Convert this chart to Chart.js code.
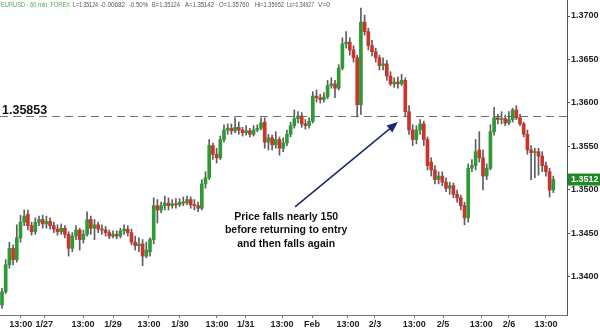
<!DOCTYPE html>
<html>
<head>
<meta charset="utf-8">
<script src="https://cdn.jsdelivr.net/npm/chart.js@4.4.1/dist/chart.umd.min.js"></script>
<style>
  html, body { margin: 0; padding: 0; background: #fff; }
</style>
</head>
<body>
<canvas id="chart" width="600" height="330"></canvas>
<script>
// EURUSD 60 min candles (one candle per hour slot)
const opens = [
  1.3368, 1.3383, 1.3414, 1.3433, 1.3420, 1.3445, 1.3463, 1.3472, 1.3459, 1.3452,
  1.3463, 1.3466, 1.3461, 1.3464, 1.3459, 1.3455, 1.3452, 1.3456, 1.3449, 1.3433,
  1.3447, 1.3454, 1.3443, 1.3449, 1.3466, 1.3456, 1.3460, 1.3455, 1.3454, 1.3451,
  1.3447, 1.3449, 1.3447, 1.3453, 1.3455, 1.3451, 1.3440, 1.3436, 1.3438, 1.3424,
  1.3429, 1.3443, 1.3482, 1.3477, 1.3482, 1.3485, 1.3482, 1.3484, 1.3483, 1.3486,
  1.3485, 1.3489, 1.3483, 1.3482, 1.3479, 1.3507, 1.3514, 1.3551, 1.3541, 1.3537,
  1.3558, 1.3569, 1.3571, 1.3568, 1.3572, 1.3569, 1.3566, 1.3568, 1.3564, 1.3569,
  1.3571, 1.3578, 1.3555, 1.3560, 1.3552, 1.3558, 1.3548, 1.3554, 1.3564, 1.3574,
  1.3582, 1.3585, 1.3576, 1.3574, 1.3579, 1.3608, 1.3606, 1.3604, 1.3607, 1.3620,
  1.3622, 1.3617, 1.3640, 1.3668, 1.3670, 1.3661, 1.3652, 1.3598, 1.3693, 1.3682,
  1.3666, 1.3659, 1.3652, 1.3643, 1.3645, 1.3631, 1.3622, 1.3624, 1.3622, 1.3626,
  1.3590, 1.3569, 1.3558, 1.3569, 1.3576, 1.3558, 1.3532, 1.3523, 1.3512, 1.3516,
  1.3509, 1.3502, 1.3505, 1.3495, 1.3491, 1.3482, 1.3468, 1.3525, 1.3528, 1.3546,
  1.3537, 1.3516, 1.3525, 1.3567, 1.3583, 1.3581, 1.3582, 1.3577, 1.3581, 1.3592,
  1.3583, 1.3576, 1.3564, 1.3546, 1.3543, 1.3544, 1.3539, 1.3528, 1.3521, 1.3500
];
const highs = [
  1.3387, 1.3420, 1.3440, 1.3437, 1.3460, 1.3471, 1.3477, 1.3477, 1.3463, 1.3468,
  1.3470, 1.3471, 1.3470, 1.3468, 1.3463, 1.3460, 1.3461, 1.3459, 1.3452, 1.3451,
  1.3459, 1.3456, 1.3454, 1.3475, 1.3470, 1.3466, 1.3463, 1.3460, 1.3458, 1.3454,
  1.3453, 1.3453, 1.3456, 1.3460, 1.3459, 1.3455, 1.3447, 1.3445, 1.3443, 1.3440,
  1.3445, 1.3491, 1.3489, 1.3486, 1.3493, 1.3491, 1.3489, 1.3490, 1.3490, 1.3492,
  1.3493, 1.3492, 1.3489, 1.3486, 1.3512, 1.3521, 1.3558, 1.3554, 1.3548, 1.3562,
  1.3575, 1.3576, 1.3576, 1.3583, 1.3578, 1.3572, 1.3574, 1.3571, 1.3574, 1.3575,
  1.3583, 1.3583, 1.3564, 1.3563, 1.3567, 1.3561, 1.3560, 1.3569, 1.3578, 1.3592,
  1.3590, 1.3589, 1.3581, 1.3583, 1.3613, 1.3615, 1.3610, 1.3612, 1.3626, 1.3629,
  1.3626, 1.3644, 1.3675, 1.3682, 1.3675, 1.3666, 1.3655, 1.3709, 1.3701, 1.3686,
  1.3672, 1.3663, 1.3655, 1.3652, 1.3649, 1.3636, 1.3629, 1.3630, 1.3633, 1.3629,
  1.3597, 1.3575, 1.3574, 1.3581, 1.3579, 1.3561, 1.3537, 1.3528, 1.3521, 1.3521,
  1.3514, 1.3509, 1.3508, 1.3500, 1.3494, 1.3486, 1.3530, 1.3535, 1.3558, 1.3567,
  1.3546, 1.3530, 1.3575, 1.3595, 1.3587, 1.3590, 1.3586, 1.3590, 1.3594, 1.3597,
  1.3587, 1.3578, 1.3569, 1.3551, 1.3548, 1.3548, 1.3544, 1.3532, 1.3525, 1.3516
];
const lows = [
  1.3364, 1.3381, 1.3410, 1.3414, 1.3417, 1.3440, 1.3459, 1.3454, 1.3448, 1.3449,
  1.3459, 1.3456, 1.3456, 1.3455, 1.3451, 1.3448, 1.3449, 1.3445, 1.3424, 1.3429,
  1.3443, 1.3431, 1.3439, 1.3447, 1.3449, 1.3443, 1.3451, 1.3449, 1.3447, 1.3444,
  1.3445, 1.3444, 1.3445, 1.3449, 1.3447, 1.3437, 1.3431, 1.3429, 1.3413, 1.3422,
  1.3424, 1.3438, 1.3462, 1.3474, 1.3477, 1.3477, 1.3479, 1.3479, 1.3481, 1.3482,
  1.3483, 1.3479, 1.3477, 1.3475, 1.3477, 1.3502, 1.3512, 1.3535, 1.3531, 1.3535,
  1.3555, 1.3564, 1.3564, 1.3566, 1.3564, 1.3562, 1.3563, 1.3561, 1.3562, 1.3567,
  1.3569, 1.3548, 1.3546, 1.3546, 1.3548, 1.3540, 1.3544, 1.3551, 1.3561, 1.3571,
  1.3577, 1.3572, 1.3570, 1.3571, 1.3577, 1.3601, 1.3600, 1.3601, 1.3605, 1.3617,
  1.3606, 1.3615, 1.3638, 1.3663, 1.3655, 1.3647, 1.3584, 1.3587, 1.3678, 1.3661,
  1.3654, 1.3647, 1.3638, 1.3638, 1.3626, 1.3620, 1.3618, 1.3617, 1.3620, 1.3585,
  1.3564, 1.3551, 1.3553, 1.3564, 1.3551, 1.3523, 1.3516, 1.3507, 1.3507, 1.3505,
  1.3498, 1.3495, 1.3491, 1.3486, 1.3477, 1.3460, 1.3463, 1.3521, 1.3523, 1.3532,
  1.3500, 1.3512, 1.3523, 1.3563, 1.3576, 1.3576, 1.3574, 1.3575, 1.3578, 1.3581,
  1.3574, 1.3561, 1.3541, 1.3512, 1.3514, 1.3517, 1.3521, 1.3516, 1.3492, 1.3497
];
const closes = [
  1.3383, 1.3414, 1.3433, 1.3420, 1.3445, 1.3463, 1.3470, 1.3459, 1.3452, 1.3463,
  1.3466, 1.3461, 1.3464, 1.3459, 1.3455, 1.3452, 1.3456, 1.3449, 1.3433, 1.3447,
  1.3454, 1.3443, 1.3449, 1.3466, 1.3456, 1.3460, 1.3455, 1.3454, 1.3451, 1.3447,
  1.3449, 1.3447, 1.3453, 1.3455, 1.3451, 1.3440, 1.3436, 1.3438, 1.3424, 1.3431,
  1.3443, 1.3482, 1.3477, 1.3482, 1.3485, 1.3482, 1.3484, 1.3483, 1.3486, 1.3485,
  1.3489, 1.3483, 1.3482, 1.3479, 1.3507, 1.3514, 1.3551, 1.3541, 1.3537, 1.3558,
  1.3569, 1.3571, 1.3568, 1.3572, 1.3569, 1.3566, 1.3568, 1.3564, 1.3569, 1.3571,
  1.3577, 1.3555, 1.3560, 1.3552, 1.3558, 1.3548, 1.3554, 1.3564, 1.3574, 1.3582,
  1.3585, 1.3576, 1.3574, 1.3579, 1.3608, 1.3606, 1.3604, 1.3607, 1.3620, 1.3622,
  1.3617, 1.3640, 1.3668, 1.3670, 1.3661, 1.3652, 1.3598, 1.3693, 1.3682, 1.3666,
  1.3659, 1.3652, 1.3643, 1.3645, 1.3631, 1.3622, 1.3624, 1.3622, 1.3626, 1.3590,
  1.3569, 1.3558, 1.3569, 1.3576, 1.3558, 1.3528, 1.3523, 1.3512, 1.3516, 1.3509,
  1.3502, 1.3505, 1.3495, 1.3491, 1.3482, 1.3468, 1.3525, 1.3528, 1.3544, 1.3537,
  1.3516, 1.3525, 1.3567, 1.3583, 1.3581, 1.3582, 1.3577, 1.3581, 1.3592, 1.3583,
  1.3576, 1.3564, 1.3546, 1.3543, 1.3544, 1.3539, 1.3528, 1.3521, 1.3500, 1.3512
];

// time axis labels, placed at candle slots
const xTickAt = [5.1, 11.4, 21.9, 30.0, 39.7, 48.1, 58.1, 65.9, 75.7, 83.8, 93.5, 100.8, 111.4, 119.2, 129.5, 137.0, 147.0];
const xTickLabels = ['13:00', '1/27', '13:00', '1/29', '13:00', '1/30', '13:00', '1/31', '13:00', 'Feb',
                     '13:00', '2/3', '13:00', '2/5', '13:00', '2/6', '13:00'];
const yTicks = [1.3400, 1.3450, 1.3500, 1.3550, 1.3600, 1.3650, 1.3700];

const entryLevel = 1.35853;
const lastPrice = 1.3512;
const headerSymbol = 'EURUSD - 60 min  FOREX';
const headerQuote = ['L=1.35124', '-0.00682', '-0.50%', 'B=1.35124', 'A=1.35142', 'O=1.35760', 'Hi=1.35952', 'Lo=1.34927', 'V=0'];
const note = ['Price falls nearly 150', 'before returning to entry', 'and then falls again'];

const FONT = '"Liberation Sans", Arial, sans-serif';
const UP = '#2f9a35';
const DOWN = '#c9342b';

const wickData = highs.map((h, i) => ({ x: i, y: [lows[i], h] }));
const bodyData = opens.map((o, i) => ({ x: i, y: [o, closes[i]] }));
const bodyColors = opens.map((o, i) => closes[i] >= o ? UP : DOWN);

const overlay = {
  id: 'overlay',
  beforeDatasetsDraw(chart) {
    const { ctx, chartArea: a, scales: { y } } = chart;
    const py = Math.round(y.getPixelForValue(entryLevel)) + 0.5;
    ctx.save();
    ctx.strokeStyle = '#707070';
    ctx.lineWidth = 1;
    ctx.setLineDash([8, 5]);
    ctx.beginPath();
    ctx.moveTo(a.left, py);
    ctx.lineTo(a.right, py);
    ctx.stroke();
    ctx.restore();
  },
  afterDraw(chart) {
    const { ctx, chartArea: a, scales: { x, y } } = chart;
    ctx.save();

    // header line
    ctx.font = '7px ' + FONT;
    ctx.textBaseline = 'middle';
    ctx.textAlign = 'left';
    ctx.fillStyle = '#4fa84f';
    ctx.fillText(headerSymbol, 1, 5, 69);
    const qx = [73, 100, 129, 152, 185, 219, 255, 287, 318];
    const qw = [25, 25, 19, 28, 29, 30, 29, 27, 12];
    ctx.fillStyle = '#555';
    headerQuote.forEach((t, i) => ctx.fillText(t, qx[i], 5, qw[i]));

    // entry level label
    const py = y.getPixelForValue(entryLevel);
    ctx.font = 'bold 12.5px ' + FONT;
    ctx.fillStyle = '#111';
    ctx.textBaseline = 'alphabetic';
    ctx.fillText(entryLevel.toFixed(5), 2, py - 2);

    // last price badge
    const ly = y.getPixelForValue(lastPrice);
    ctx.fillStyle = '#1f8a24';
    ctx.fillRect(a.right + 1, ly - 6, 600 - a.right - 1, 12);
    ctx.font = 'bold 9px ' + FONT;
    ctx.fillStyle = '#fff';
    ctx.textBaseline = 'middle';
    ctx.fillText(lastPrice.toFixed(4), a.right + 4, ly);

    // arrow
    const x1 = x.getPixelForValue(79.2), y1 = y.getPixelForValue(1.34805);
    const x2 = x.getPixelForValue(107.0), y2 = y.getPixelForValue(1.35782);
    const ang = Math.atan2(y2 - y1, x2 - x1);
    ctx.strokeStyle = '#1e2a70';
    ctx.fillStyle = '#1e2a70';
    ctx.lineWidth = 1.6;
    ctx.beginPath();
    ctx.moveTo(x1, y1);
    ctx.lineTo(x2 - 8 * Math.cos(ang), y2 - 8 * Math.sin(ang));
    ctx.stroke();
    ctx.beginPath();
    ctx.moveTo(x2, y2);
    ctx.lineTo(x2 - 11 * Math.cos(ang) + 4.5 * Math.sin(ang), y2 - 11 * Math.sin(ang) - 4.5 * Math.cos(ang));
    ctx.lineTo(x2 - 11 * Math.cos(ang) - 4.5 * Math.sin(ang), y2 - 11 * Math.sin(ang) + 4.5 * Math.cos(ang));
    ctx.closePath();
    ctx.fill();

    // annotation
    const tx = x.getPixelForValue(76.8), ty = y.getPixelForValue(1.3469);
    ctx.font = 'bold 10.5px ' + FONT;
    ctx.fillStyle = '#111';
    ctx.textAlign = 'center';
    ctx.textBaseline = 'middle';
    note.forEach((t, i) => ctx.fillText(t, tx, ty + i * 13.5));

    ctx.restore();
  }
};

new Chart(document.getElementById('chart'), {
  type: 'bar',
  data: {
    datasets: [
      {
        data: wickData,
        backgroundColor: '#5e5e5e',
        barThickness: 1,
        grouped: false,
        order: 2
      },
      {
        data: bodyData,
        backgroundColor: bodyColors,
        barThickness: 3,
        minBarLength: 1,
        grouped: false,
        order: 1
      }
    ]
  },
  options: {
    responsive: false,
    animation: false,
    layout: { padding: 0 },
    plugins: { legend: { display: false }, tooltip: { enabled: false } },
    scales: {
      x: {
        type: 'linear',
        min: -0.54,
        max: 152.7,
        offset: false,
        afterFit(s) { s.height = 15; s.paddingLeft = 0; s.paddingRight = 0; },
        afterBuildTicks(s) { s.ticks = xTickAt.map(v => ({ value: v })); },
        border: { display: true, color: '#777' },
        grid: { drawOnChartArea: false, drawTicks: true, tickLength: 3, color: '#777', offset: false },
        ticks: {
          autoSkip: false,
          maxRotation: 0,
          padding: 1,
          color: '#222',
          font: { family: FONT, size: 9, weight: 'bold' },
          callback: (v, i) => xTickLabels[i]
        }
      },
      y: {
        position: 'right',
        min: 1.33563,
        max: 1.37184,
        afterFit(s) { s.width = 33; s.paddingTop = 0; s.paddingBottom = 0; },
        afterBuildTicks(s) { s.ticks = yTicks.map(v => ({ value: v })); },
        border: { display: true, color: '#555' },
        grid: { drawOnChartArea: false, drawTicks: true, tickLength: 3, color: '#555' },
        ticks: {
          padding: 1,
          color: '#222',
          font: { family: FONT, size: 9, weight: 'bold' },
          callback: v => v.toFixed(4)
        }
      }
    }
  },
  plugins: [overlay]
});
</script>
</body>
</html>
